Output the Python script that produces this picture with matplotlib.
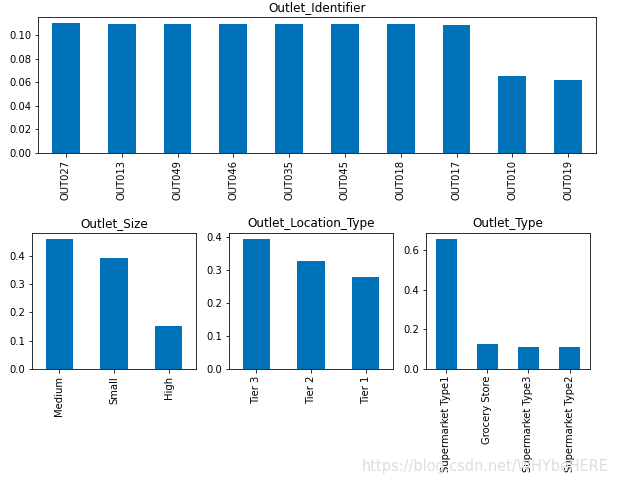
import matplotlib
matplotlib.use("Agg")
from matplotlib import pyplot as plt

# normalized value counts per column
outlet_ids = ["OUT027", "OUT013", "OUT049", "OUT046", "OUT035",
              "OUT045", "OUT018", "OUT017", "OUT010", "OUT019"]
outlet_id_share = [0.1097, 0.1094, 0.1091, 0.1091, 0.1091,
                   0.1090, 0.1089, 0.1086, 0.0651, 0.0620]

sizes = ["Medium", "Small", "High"]
size_share = [0.4569, 0.3906, 0.1525]

locations = ["Tier 3", "Tier 2", "Tier 1"]
location_share = [0.3931, 0.3268, 0.2802]

types = ["Supermarket Type1", "Grocery Store", "Supermarket Type3", "Supermarket Type2"]
type_share = [0.6543, 0.1271, 0.1097, 0.1089]

color = "#0072B9"
DPI = 72


def bar_plot(ax, labels, values, title):
    x = range(len(labels))
    ax.bar(x, values, width=0.5, color=color)
    ax.set_xticks(list(x))
    ax.set_xticklabels(labels, rotation=90)
    ax.set_xlim(-0.5, len(labels) - 0.5)
    ax.set_title(title)


fig = plt.figure(figsize=(618 / DPI, 485 / DPI), dpi=DPI)

ax_top = fig.add_axes([0.0615, 0.6845, 0.903, 0.2804])
bar_plot(ax_top, outlet_ids, outlet_id_share, "Outlet_Identifier")

bottom_axes = [fig.add_axes([left, 0.2392, 0.2654, 0.2804])
               for left in (0.0518, 0.3706, 0.6893)]
bar_plot(bottom_axes[0], sizes, size_share, "Outlet_Size")
bar_plot(bottom_axes[1], locations, location_share, "Outlet_Location_Type")
bar_plot(bottom_axes[2], types, type_share, "Outlet_Type")

# watermark
fig.text(0.984, 0.038, "https://blog.csdn.net/WHYbeHERE", ha="right", va="center",
         fontsize=14.5, color="#dedede")

fig.savefig("out.png", dpi=DPI)
